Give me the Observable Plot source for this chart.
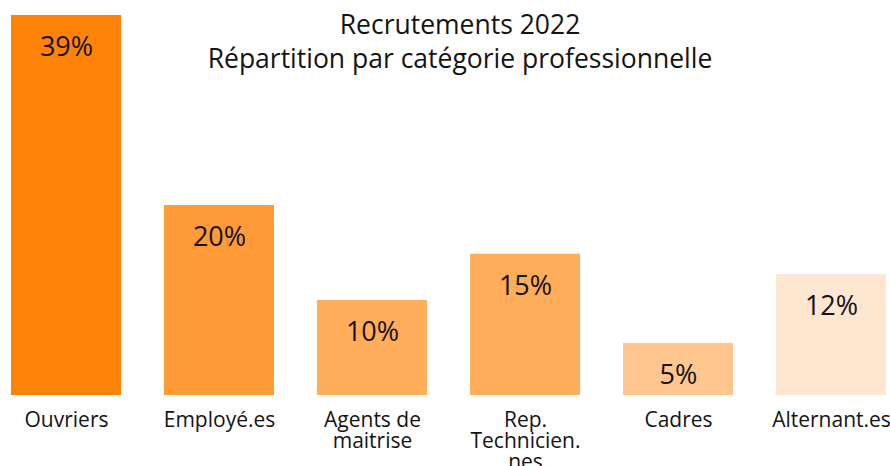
<!DOCTYPE html>
<html>
<head>
<meta charset="utf-8">
<script src="https://cdn.jsdelivr.net/npm/d3@7"></script>
<script src="https://cdn.jsdelivr.net/npm/@observablehq/plot@0.6"></script>
<style>
  html, body { margin: 0; padding: 0; background: #fff; overflow: hidden; }
  svg { font-family: "Open Sans", sans-serif; }
</style>
</head>
<body>
<div id="chart"></div>
<script>
const categories = ["Ouvriers", "Employé.es", "Agents de maitrise", "Rep. Technicien.nes", "Cadres", "Alternant.es"];
const tickLabels = ["Ouvriers", "Employé.es", "Agents de\nmaitrise", "Rep.\nTechnicien.\nnes", "Cadres", "Alternant.es"];
const values = [39, 19.5, 9.75, 14.5, 5.35, 12.4];
const valueLabels = ["39%", "20%", "10%", "15%", "5%", "12%"];
const colors = ["#ff8209", "#ff9a36", "#ffac5b", "#ffac5b", "#ffc68f", "#ffe6d0"];
const titleLines = ["Recrutements 2022", "Répartition par catégorie professionnelle"];

const data = categories.map((c, i) => ({cat: c, value: values[i], label: valueLabels[i], color: colors[i]}));
const tickMap = new Map(categories.map((c, i) => [c, tickLabels[i]]));

const chart = Plot.plot({
  width: 890,
  height: 466,
  marginTop: 15,
  marginBottom: 71,
  marginLeft: 11,
  marginRight: 4,
  style: {fontFamily: "Open Sans, sans-serif", background: "#fff", overflow: "hidden"},
  x: {domain: categories, paddingInner: 0.281, paddingOuter: 0, round: false, label: null},
  y: {domain: [0, 39], axis: null},
  marks: [
    Plot.barY(data, {x: "cat", y: "value", fill: "color"}),
    Plot.text(data, {x: "cat", y: "value", text: "label", dy: 32, lineAnchor: "middle", fontSize: 27, fill: "#141414"}),
    Plot.axisX({tickSize: 0, tickPadding: 17, fontSize: 21, lineHeight: 1.0, fill: "#141414", tickFormat: d => tickMap.get(d)}),
    Plot.text([titleLines.join("\n")], {frameAnchor: "top", dx: 11, dy: -6, lineAnchor: "top", fontSize: 26.5, lineHeight: 1.3, fill: "#141414"})
  ]
});
document.getElementById("chart").appendChild(chart);
</script>
</body>
</html>
